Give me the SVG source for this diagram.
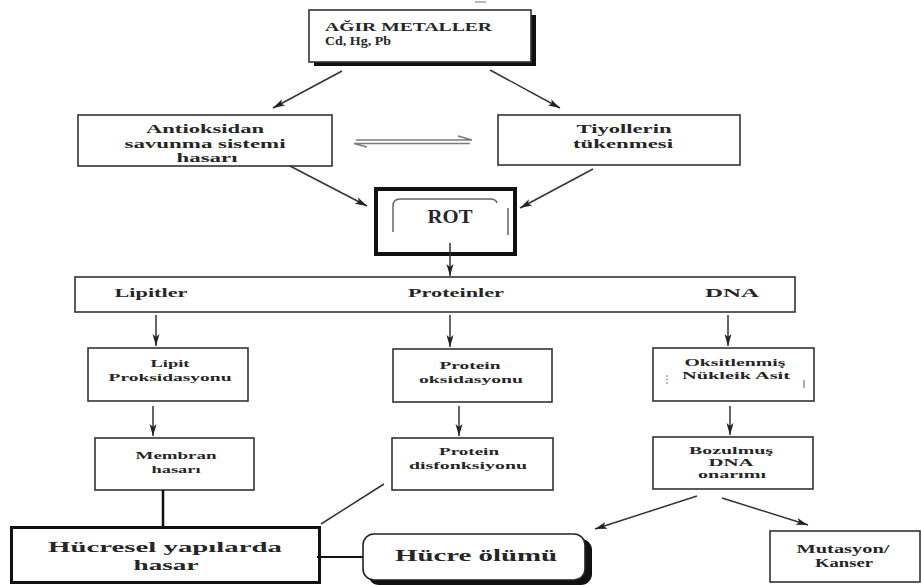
<svg xmlns="http://www.w3.org/2000/svg" width="921" height="585" viewBox="0 0 921 585">
  <style>
    .box { fill: #fff; stroke: #333; stroke-width: 1.6; }
    .t { font-family: "Liberation Serif", "Times New Roman", serif; font-weight: bold; fill: #262626; text-anchor: middle; }
    .s12 { font-size: 12px; }
    .s13 { font-size: 13px; }
    .s11 { font-size: 11px; }
    .s10 { font-size: 10.5px; }
    .big { font-size: 15px; }
    .ln { stroke: #333; stroke-width: 1.5; fill: none; }
    .arr { stroke: #333; stroke-width: 1.5; fill: none; marker-end: url(#ah); }
    .eq { stroke: #7a7a7a; stroke-width: 1.6; fill: none; }
  </style>
  <defs>
    <marker id="ah" viewBox="0 0 12 8" refX="12" refY="4" markerWidth="12" markerHeight="8" orient="auto" markerUnits="userSpaceOnUse">
      <path d="M0,0.5 L12,4 L0,7.5 L3,4 z" fill="#222"/>
    </marker>
  </defs>

  <rect width="921" height="585" fill="#fff"/>

  <!-- heavy metals source box with drop shadow -->
  <g id="agir-metaller">
    <line x1="475" y1="2" x2="486" y2="2" stroke="#888" stroke-width="1.2"/>
    <rect x="314" y="15" width="222" height="51" fill="#111"/>
    <rect x="309" y="10" width="222" height="52" class="box"/>
    <text class="t s12" x="325" y="31" style="text-anchor:start" textLength="167" lengthAdjust="spacingAndGlyphs">AĞIR METALLER</text>
    <text class="t s12" x="325" y="45" style="text-anchor:start" textLength="66" lengthAdjust="spacingAndGlyphs">Cd, Hg, Pb</text>
  </g>

  <g id="antioksidan">
    <rect x="78" y="115" width="254" height="51" class="box"/>
    <text class="t s12" x="205" y="133" textLength="118" lengthAdjust="spacingAndGlyphs">Antioksidan</text>
    <text class="t s12" x="205" y="148" textLength="161" lengthAdjust="spacingAndGlyphs">savunma sistemi</text>
    <text class="t s12" x="207" y="162" textLength="61" lengthAdjust="spacingAndGlyphs">hasarı</text>
  </g>

  <g id="tiyoller">
    <rect x="498" y="115" width="242" height="50" class="box"/>
    <text class="t s12" x="624" y="133" textLength="95" lengthAdjust="spacingAndGlyphs">Tiyollerin</text>
    <text class="t s12" x="623" y="148" textLength="100" lengthAdjust="spacingAndGlyphs">tükenmesi</text>
  </g>

  <g id="rot">
    <rect x="376" y="189" width="139" height="65" fill="#fff" stroke="#111" stroke-width="4"/>
    <path d="M393,232 L393,206 Q393,199 400,199 L490,199 Q496,199 497,203" fill="none" stroke="#666" stroke-width="1.5"/>
    <line x1="508" y1="208" x2="508" y2="235" stroke="#666" stroke-width="1.5"/>
    <text class="t" style="font-size:19px" x="450" y="223" textLength="45" lengthAdjust="spacingAndGlyphs">ROT</text>
  </g>

  <g id="hedefler">
    <rect x="75" y="277" width="720" height="35" class="box"/>
    <text class="t s13" x="151" y="297" textLength="73" lengthAdjust="spacingAndGlyphs">Lipitler</text>
    <text class="t s13" x="456" y="297" textLength="96" lengthAdjust="spacingAndGlyphs">Proteinler</text>
    <text class="t s13" x="732" y="297" textLength="54" lengthAdjust="spacingAndGlyphs">DNA</text>
  </g>

  <g id="lipit-peroksidasyonu">
    <rect x="88" y="348" width="160" height="53" class="box"/>
    <text class="t s11" x="170" y="367" textLength="39" lengthAdjust="spacingAndGlyphs">Lipit</text>
    <text class="t s11" x="170" y="381" textLength="123" lengthAdjust="spacingAndGlyphs">Proksidasyonu</text>
  </g>

  <g id="protein-oksidasyonu">
    <rect x="393" y="349" width="159" height="53" class="box"/>
    <text class="t s11" x="470" y="369" textLength="61" lengthAdjust="spacingAndGlyphs">Protein</text>
    <text class="t s11" x="471" y="383" textLength="104" lengthAdjust="spacingAndGlyphs">oksidasyonu</text>
  </g>

  <g id="oksitlenmis-nukleik-asit">
    <rect x="653" y="348" width="161" height="53" class="box"/>
    <text class="t s11" x="735" y="366" textLength="101" lengthAdjust="spacingAndGlyphs">Oksitlenmiş</text>
    <text class="t s11" x="736" y="379" textLength="108" lengthAdjust="spacingAndGlyphs">Nükleik Asit</text>
    <line x1="667" y1="375" x2="667" y2="385" stroke="#777" stroke-width="1" stroke-dasharray="2,1.5"/>
    <line x1="804" y1="380" x2="804" y2="388" stroke="#777" stroke-width="1.2"/>
  </g>

  <g id="membran-hasari">
    <rect x="95" y="438" width="159" height="52" class="box"/>
    <text class="t s11" x="176" y="459" textLength="81" lengthAdjust="spacingAndGlyphs">Membran</text>
    <text class="t s11" x="176" y="473" textLength="49" lengthAdjust="spacingAndGlyphs">hasarı</text>
  </g>

  <g id="protein-disfonksiyonu">
    <rect x="392" y="438" width="161" height="52" class="box"/>
    <text class="t s11" x="469" y="455" textLength="60" lengthAdjust="spacingAndGlyphs">Protein</text>
    <text class="t s11" x="468" y="469" textLength="118" lengthAdjust="spacingAndGlyphs">disfonksiyonu</text>
  </g>

  <g id="bozulmus-dna-onarimi">
    <rect x="653" y="437" width="160" height="52" class="box"/>
    <text class="t s10" x="731" y="454" textLength="84" lengthAdjust="spacingAndGlyphs">Bozulmuş</text>
    <text class="t s10" x="731" y="466" textLength="45" lengthAdjust="spacingAndGlyphs">DNA</text>
    <text class="t s10" x="732" y="478" textLength="68" lengthAdjust="spacingAndGlyphs">onarımı</text>
  </g>

  <g id="hucresel-hasar">
    <rect x="11.5" y="527.5" width="308" height="55" fill="#fff" stroke="#111" stroke-width="3"/>
    <text class="t big" x="165" y="552" textLength="234" lengthAdjust="spacingAndGlyphs">Hücresel yapılarda</text>
    <text class="t big" x="166" y="570" textLength="65" lengthAdjust="spacingAndGlyphs">hasar</text>
  </g>

  <g id="hucre-olumu">
    <rect x="368" y="539" width="224" height="46" rx="11" fill="#111"/>
    <rect x="363" y="534" width="222" height="46" rx="11" fill="#fff" stroke="#222" stroke-width="1.6"/>
    <text class="t" style="font-size:17px" x="476" y="561" textLength="162" lengthAdjust="spacingAndGlyphs">Hücre ölümü</text>
  </g>

  <g id="mutasyon-kanser">
    <rect x="770" y="531" width="150" height="51" class="box"/>
    <text class="t s12" x="843" y="553" textLength="93" lengthAdjust="spacingAndGlyphs">Mutasyon/</text>
    <text class="t s12" x="844" y="567" textLength="58" lengthAdjust="spacingAndGlyphs">Kanser</text>
  </g>

  <!-- connectors -->
  <g id="baglantilar">
    <line class="arr" x1="342" y1="71" x2="273" y2="108"/>
    <line class="arr" x1="490" y1="70" x2="560" y2="108"/>

    <!-- reversible exchange between the two effects -->
    <path class="eq" d="M356,140 L472,140 M472,140 L458,136"/>
    <path class="eq" d="M354,143.5 L470,143.5 M354,143.5 L367,147"/>

    <line class="arr" x1="290" y1="166" x2="367" y2="206"/>
    <line class="arr" x1="593" y1="169" x2="520" y2="208"/>

    <line class="arr" x1="450" y1="243" x2="450" y2="276"/>

    <line class="arr" x1="156" y1="315" x2="156" y2="346"/>
    <line class="arr" x1="450" y1="315" x2="450" y2="347"/>
    <line class="arr" x1="728" y1="315" x2="728" y2="346"/>

    <line class="arr" x1="153" y1="406" x2="153" y2="436"/>
    <line class="arr" x1="459" y1="406" x2="459" y2="436"/>
    <line class="arr" x1="730" y1="406" x2="730" y2="435"/>

    <line x1="163" y1="490" x2="163" y2="526" stroke="#111" stroke-width="2.5"/>
    <line class="ln" x1="384" y1="484" x2="321" y2="524"/>
    <line x1="317" y1="557" x2="363" y2="557" stroke="#111" stroke-width="2"/>

    <line class="arr" x1="697" y1="496" x2="595" y2="529"/>
    <line class="arr" x1="722" y1="498" x2="808" y2="525"/>
  </g>
</svg>
